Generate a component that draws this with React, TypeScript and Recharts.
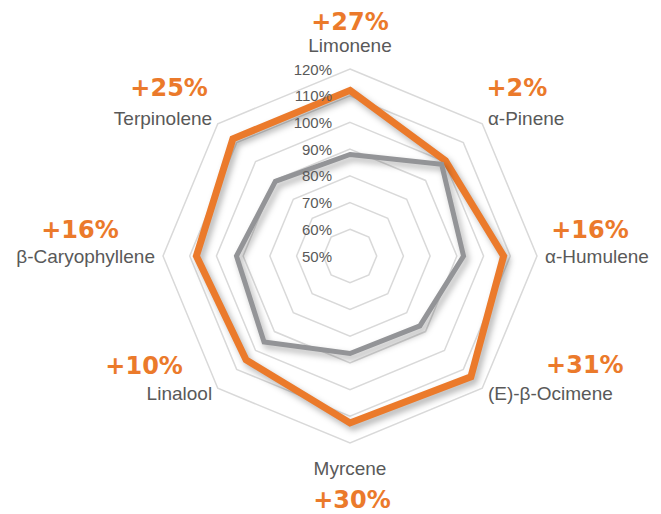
import { RadarChart, PolarGrid, PolarAngleAxis, PolarRadiusAxis, Radar } from "recharts";

const terpenes = [
  "Limonene",
  "α-Pinene",
  "α-Humulene",
  "(E)-β-Ocimene",
  "Myrcene",
  "Linalool",
  "β-Caryophyllene",
  "Terpinolene",
];
const baseline = [88, 98.5, 92.5, 87, 86.5, 95.5, 92.5, 89.5];
const improved = [112, 100.5, 107.5, 114, 112.5, 105, 107.5, 112];
const changeLabels = ["+27%", "+2%", "+16%", "+31%", "+30%", "+10%", "+16%", "+25%"];
const radiusTicks = [50, 60, 70, 80, 90, 100, 110, 120];

// label offsets from the angle-axis tick point: [nameDy, pctDx, pctDy]
const labelOffsets: [number, number, number][] = [
  [-16, 0, -39],
  [0, 29, -30],
  [0, 45, -26],
  [0, 97, -29],
  [17, 2, 49],
  [0, -68, -28],
  [0, -75, -26],
  [0, -43, -30],
];

const data = terpenes.map((name, i) => ({
  name,
  baseline: baseline[i],
  improved: improved[i],
}));

const ORANGE = "#EB7A2B";
const GRAY = "#939497";
const TEXT = "#595959";

function AngleTick(props: any) {
  const { x, y, textAnchor, payload } = props;
  const i = terpenes.indexOf(payload.value);
  const [nameDy, pctDx, pctDy] = labelOffsets[i];
  return (
    <g>
      <text
        x={x}
        y={y + nameDy}
        textAnchor={textAnchor}
        dominantBaseline="central"
        fill={TEXT}
        fontSize={19}
        fontFamily="'Liberation Sans', Arial, sans-serif"
      >
        {payload.value}
      </text>
      <text
        x={x + pctDx}
        y={y + pctDy}
        textAnchor="middle"
        dominantBaseline="central"
        fill={ORANGE}
        fontSize={24}
        fontWeight="bold"
        fontFamily="'DejaVu Sans', sans-serif"
      >
        {changeLabels[i]}
      </text>
    </g>
  );
}

function RadiusTick(props: any) {
  const { x, y, payload } = props;
  return (
    <text
      x={x - 18}
      y={y}
      textAnchor="end"
      dominantBaseline="central"
      fill={TEXT}
      fontSize={15}
      fontFamily="'Liberation Sans', Arial, sans-serif"
    >
      {payload.value}%
    </text>
  );
}

export default function App() {
  return (
    <div style={{ width: 661, height: 514, background: "#fff" }}>
      <style>{`body{margin:0} .recharts-radar-polygon path{filter:drop-shadow(3px 4px 3px rgba(0,0,0,0.3));}`}</style>
      <RadarChart
        width={661}
        height={514}
        data={data}
        cx={350}
        cy={256}
        outerRadius={187}
        margin={{ top: 0, right: 0, bottom: 0, left: 0 }}
      >
        <PolarGrid gridType="polygon" radialLines={false} stroke="#D9D9D9" strokeWidth={1.5} />
        <PolarAngleAxis dataKey="name" tick={<AngleTick />} tickLine={false} axisLine={false} />
        <Radar
          dataKey="improved"
          stroke={ORANGE}
          strokeWidth={7}
          fill="none"
          fillOpacity={0}
          strokeLinejoin="miter"
          isAnimationActive={false}
        />
        <Radar
          dataKey="baseline"
          stroke={GRAY}
          strokeWidth={5}
          fill="none"
          fillOpacity={0}
          strokeLinejoin="miter"
          isAnimationActive={false}
        />
        <PolarRadiusAxis
          angle={90}
          domain={[50, 120]}
          ticks={radiusTicks as any}
          tickCount={8}
          axisLine={false}
          tickLine={false}
          tick={<RadiusTick />}
        />
      </RadarChart>
    </div>
  );
}
